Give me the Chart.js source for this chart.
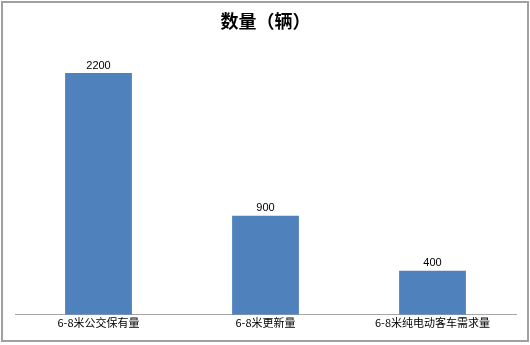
<!DOCTYPE html>
<html>
<head>
<meta charset="utf-8">
<script src="https://cdn.jsdelivr.net/npm/chart.js@4"></script>
<style>
  html, body { margin: 0; padding: 0; background: #fff; }
  #wrap { position: absolute; left: 0; top: 0; width: 530px; height: 345px; }
</style>
</head>
<body>
<div id="wrap"><canvas id="chart" width="530" height="345"></canvas></div>
<script>
const categories = ['6-8米公交保有量', '6-8米更新量', '6-8米纯电动客车需求量'];
const counts = [2200, 900, 400];
const chartTitle = '数量（辆）';

// value labels over the bars
const barLabels = {
    id: 'barLabels',
    afterDatasetsDraw(chart) {
        const ctx = chart.ctx;
        ctx.save();
        ctx.font = '11px "Liberation Sans", Arial, sans-serif';
        ctx.fillStyle = '#000';
        ctx.textAlign = 'center';
        ctx.textBaseline = 'bottom';
        chart.getDatasetMeta(0).data.forEach((bar, i) => {
            ctx.fillText(counts[i], bar.x, bar.y - 2);
        });
        ctx.restore();
    }
};

// grey frame round the whole picture
const frame = {
    id: 'frame',
    beforeDraw(chart) {
        const ctx = chart.ctx;
        ctx.save();
        ctx.fillStyle = '#fff';
        ctx.fillRect(0, 0, chart.width, chart.height);
        ctx.restore();
    },
    afterDraw(chart) {
        const ctx = chart.ctx;
        ctx.save();
        ctx.strokeStyle = '#a0a0a0';
        ctx.lineWidth = 2;
        ctx.strokeRect(2, 2, 526, 339);
        ctx.restore();
    }
};

new Chart(document.getElementById('chart'), {
    type: 'bar',
    data: {
        labels: categories,
        datasets: [{
            data: counts,
            backgroundColor: '#4f81bd',
            barPercentage: 0.4,
            categoryPercentage: 1
        }]
    },
    options: {
        responsive: false,
        animation: false,
        layout: { padding: { left: 15, right: 14, bottom: 15, top: 0 } },
        plugins: {
            legend: { display: false },
            tooltip: { enabled: false },
            title: {
                display: true,
                text: chartTitle,
                color: '#000',
                font: { family: '"Noto Sans CJK SC"', size: 18, weight: 'bold', lineHeight: 1.2 },
                padding: { top: 10, bottom: 8.4 }
            }
        },
        scales: {
            x: {
                grid: { display: false, drawTicks: false },
                border: { display: true, color: '#a6a6a6', width: 1 },
                ticks: {
                    color: '#000',
                    padding: 1,
                    font: { family: '"Noto Sans CJK SC"', size: 11, lineHeight: 1.2 }
                }
            },
            y: {
                display: false,
                min: 0,
                max: 2500
            }
        }
    },
    plugins: [barLabels, frame]
});
</script>
</body>
</html>
